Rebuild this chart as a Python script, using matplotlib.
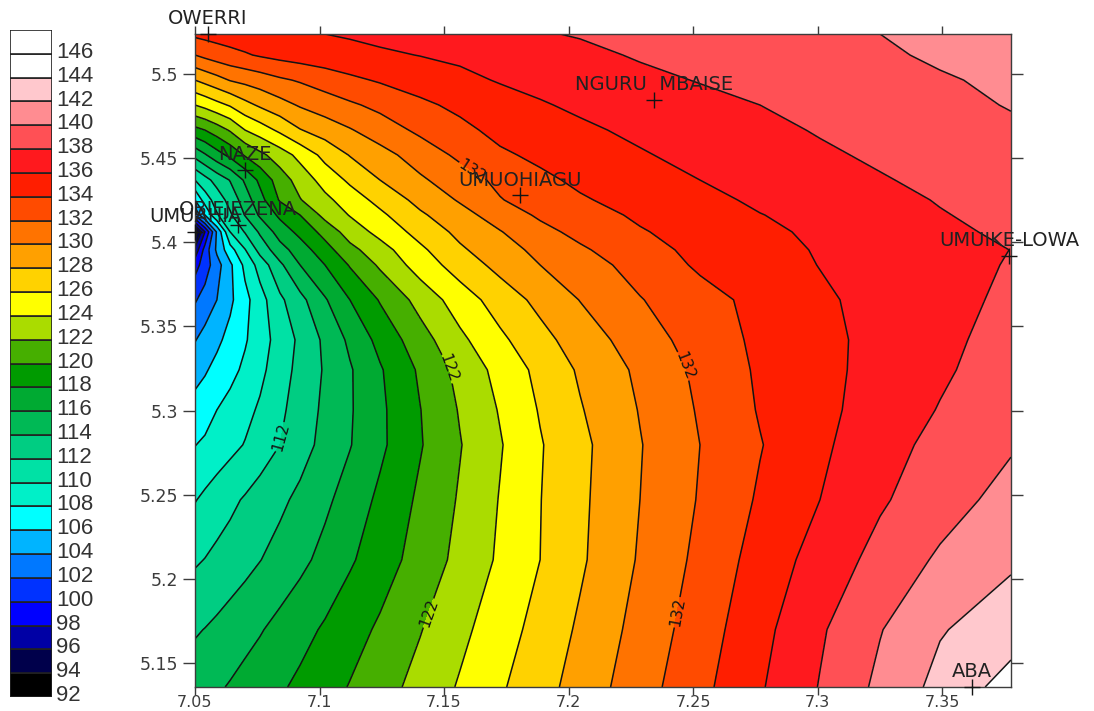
#!/usr/bin/env python

import numpy as np
from matplotlib import pyplot

lon = [7.05, 7.054, 7.0588, 7.0641, 7.0701, 7.0761, 7.0841, 7.0922, 7.1022, 7.1122, 7.1243, 7.1404,
       7.1564, 7.1725, 7.1886, 7.2046, 7.2287, 7.2528, 7.2769, 7.301, 7.3251, 7.3492, 7.3777]
lat = [5.1357, 5.1698, 5.2113, 5.247, 5.2796, 5.3004, 5.3242, 5.342, 5.3658, 5.3865, 5.3955, 5.4062,
       5.4162, 5.4252, 5.437, 5.4519, 5.4667, 5.4816, 5.4964, 5.5113, 5.5238]

# one row per latitude, south to north
z = [
    [115.05, 115.35, 115.75, 116.15, 116.65, 117.1, 117.75, 118.4, 119.25, 120.1, 121.2, 122.65,
     124.2, 125.75, 127.25, 128.8, 131.15, 133.45, 135.8, 138.1, 140.45, 142.6, 144.8],
    [113.8, 114.05, 114.4, 114.85, 115.35, 115.85, 116.6, 117.35, 118.25, 119.2, 120.3, 121.9,
     123.5, 125.1, 126.7, 128.3, 130.7, 133, 135.4, 137.75, 139.9, 141.85, 143.1],
    [111.75, 112.05, 112.5, 112.9, 113.4, 113.95, 114.7, 115.5, 116.6, 117.75, 119.05, 120.8,
     122.55, 124.3, 126, 127.7, 130.2, 132.5, 134.8, 136.8, 138.65, 140.3, 141.7],
    [109.9, 110.4, 110.95, 111.55, 112.2, 112.8, 113.6, 114.45, 115.6, 116.85, 118.4, 120.35,
     122.2, 124.1, 125.95, 127.6, 130, 132.15, 134.25, 136, 137.75, 139.15, 140.7],
    [107.95, 108.35, 108.9, 109.45, 110.1, 111, 112, 113.2, 114.6, 115.9, 117.6, 119.85,
     121.9, 123.85, 125.85, 127.5, 129.9, 132, 133.9, 135.65, 137.2, 138.6, 139.8],
    [106.8, 107.1, 108, 108.67, 109.44, 110.27, 111.6, 112.9, 114.4, 115.8, 117.6, 119.95,
     122.15, 124.15, 126.15, 127.85, 130.1, 132.2, 134.15, 135.5, 136.85, 138.1, 139.4],
    [105.2, 105.8, 106.55, 107.4, 108.4, 109.5, 111.1, 112.6, 114.2, 115.8, 117.8, 120.3,
     122.6, 124.65, 126.55, 128.25, 130.4, 132.45, 134.3, 135.5, 136.6, 137.7, 139],
    [103.9, 104.7, 105.6, 106.6, 107.8, 109.1, 110.8, 112.4, 114.4, 116.4, 118.6, 121.15,
     123.55, 125.6, 127.35, 128.95, 131, 132.9, 134.4, 135.5, 136.55, 137.55, 138.7],
    [101.8, 102.8, 104, 105.6, 107.4, 109.2, 111.6, 113.4, 115.8, 118, 120.15, 122.7,
     125, 126.9, 128.55, 130.05, 131.9, 133.3, 134.55, 135.7, 136.6, 137.4, 138.35],
    [99.2, 101, 103.2, 105.6, 108.5, 110.8, 113.6, 116, 118, 120.15, 122.3, 124.9,
     126.9, 128.6, 130, 131.1, 132.75, 134.3, 135.15, 136.05, 136.65, 137.35, 138.12],
    [96.6, 100.8, 104.4, 107.2, 109.9, 112.7, 115.2, 117, 119.2, 121.4, 123.2, 125.6,
     127.7, 129.2, 130.5, 131.7, 133.3, 134.5, 135.35, 136.15, 136.75, 137.3, 138.02],
    [92.5, 98, 104.3, 110, 112.15, 114.3, 116.9, 118.55, 120.7, 122.9, 124.6, 126.7,
     128.5, 129.9, 131.4, 132.55, 133.85, 134.75, 135.6, 136.35, 137, 137.65, 138.3],
    [102.2, 106, 109.8, 111.7, 114.1, 116.3, 118.4, 120, 122.6, 124.1, 125.6, 127.7,
     129.3, 130.9, 132.3, 133.2, 134.3, 135.1, 135.95, 136.55, 137.3, 137.9, 138.5],
    [106, 109, 110.9, 112.7, 115, 117.3, 120.2, 121.9, 123.5, 125, 126.6, 128.6,
     130.2, 131.9, 132.9, 133.8, 134.7, 135.5, 136.3, 136.9, 137.5, 138.1, 138.7],
    [110, 111.3, 112.75, 114.1, 116.3, 118.45, 121, 122.8, 124.8, 126.35, 128, 129.7,
     131.1, 132.45, 133.6, 134.35, 135.2, 136, 136.6, 137.2, 137.85, 138.45, 139.1],
    [114.6, 115.8, 117.2, 118.5, 120.2, 121.5, 123, 124.6, 126.6, 128.1, 129.3, 130.9,
     132.4, 133.7, 134.4, 135, 135.85, 136.5, 137.1, 137.7, 138.3, 138.8, 139.4],
    [119.4, 120, 121, 122.2, 124, 125, 126.4, 127.9, 128.9, 129.85, 131, 132.4,
     133.5, 134.55, 135.1, 135.7, 136.35, 136.9, 137.5, 138.15, 138.7, 139.1, 139.7],
    [124, 124.6, 125.4, 126.2, 127.4, 128.3, 129.3, 130.2, 131, 131.7, 132.5, 133.6,
     134.45, 135.15, 135.85, 136.3, 136.85, 137.4, 138, 138.5, 139, 139.5, 140.1],
    [128, 128.6, 129.3, 130.1, 130.55, 131, 131.7, 132.2, 132.9, 133.6, 134.2, 134.9,
     135.5, 136.15, 136.5, 136.95, 137.5, 138.1, 138.5, 138.95, 139.4, 139.8, 140.4],
    [132, 132.5, 133, 133.4, 133.8, 134.2, 134.6, 134.9, 135.2, 135.4, 135.7, 136.05,
     136.4, 136.75, 137.15, 137.5, 138.2, 138.6, 139, 139.3, 139.7, 140.3, 140.7],
    [134.4, 134.6, 134.8, 135, 135.2, 135.4, 135.6, 135.8, 136, 136.2, 136.5, 136.8,
     137.1, 137.4, 137.85, 138.15, 138.5, 138.9, 139.3, 139.6, 140, 140.5, 141],
]

levels = list(range(92, 150, 2))
labelled_levels = [112, 122, 132]
band_colors = ["#000000", "#00004b", "#0000a5", "#0000ff", "#0032ff", "#0078ff", "#00b4ff", "#00ffff",
               "#00f0c8", "#00e1a5", "#00cd82", "#00b955", "#00aa32", "#009b00", "#46af00", "#aadc00",
               "#ffff00", "#ffd200", "#ffa000", "#ff7300", "#ff4b00", "#ff1e00", "#ff191e", "#ff5055",
               "#ff8c91", "#ffc8cd", "#ffffff", "#ffffff"]

town_names = ["OWERRI", "NGURU  MBAISE", "NAZE", "UMUOHIAGU", "OBIEJEZENA", "UMUAHIA", "UMUIKE-LOWA", "ABA"]
town_lon = [7.0552, 7.2343, 7.0701, 7.1805, 7.0673, 7.05, 7.377, 7.362]
town_lat = [5.5238, 5.4846, 5.443, 5.4281, 5.4103, 5.4062, 5.3919, 5.1359]

label_points = [(7.085, 5.284), (7.152, 5.325), (7.2465, 5.3265), (7.145, 5.179), (7.244, 5.18), (7.16, 5.4395)]

dark = "#3c3c3c"
fig = pyplot.figure(figsize=(10.94, 7.11), dpi=100)

# map
ax = fig.add_axes([195 / 1094, 1 - 687 / 711, 816 / 1094, 653 / 711])
ax.contourf(lon, lat, np.array(z), levels=levels, colors=band_colors)
plain_levels = [lv for lv in levels if lv not in labelled_levels]
ax.contour(lon, lat, np.array(z), levels=plain_levels, colors="#141414", linewidths=1.1)
cs = ax.contour(lon, lat, np.array(z), levels=labelled_levels, colors="#141414", linewidths=1.1)
ax.clabel(cs, manual=label_points, fmt="%d", fontsize=11, inline_spacing=1)

for name, x, y in zip(town_names, town_lon, town_lat):
    ax.plot(x, y, "+", color="#141414", ms=11, mew=1, clip_on=False, zorder=5)
    ax.annotate(name, (x, y), xytext=(0, 10.8), textcoords="offset points", ha="center", va="center",
                fontsize=14, color="#222222", annotation_clip=False, zorder=6)

ax.set_xlim(7.05, 7.3777)
ax.set_ylim(5.1357, 5.5238)
ax.set_xticks([7.05, 7.1, 7.15, 7.2, 7.25, 7.3, 7.35])
ax.set_xticklabels(["7.05", "7.1", "7.15", "7.2", "7.25", "7.3", "7.35"])
ax.set_yticks([5.15, 5.2, 5.25, 5.3, 5.35, 5.4, 5.45, 5.5])
ax.set_yticklabels(["5.15", "5.2", "5.25", "5.3", "5.35", "5.4", "5.45", "5.5"])
ax.tick_params(axis="x", top=True, direction="out", length=5.8, width=1, color=dark, labelcolor=dark,
               labelsize=11.5, pad=0.3)
ax.tick_params(axis="y", right=True, direction="out", length=8.6, width=1, color=dark, labelcolor=dark,
               labelsize=12.5, pad=3.5)
for spine in ax.spines.values():
    spine.set_color(dark)
    spine.set_linewidth(1)

# colour key
key = fig.add_axes([10 / 1094, 1 - 697 / 711, 42 / 1094, 667 / 711])
key.bar(0.5, 1, width=1, bottom=np.arange(len(band_colors)), color=band_colors, edgecolor="#222222", linewidth=1.2)
key.set_xlim(0, 1)
key.set_ylim(0, len(band_colors))
key.axis("off")
for ii, level in enumerate(levels[:-1]):
    key.text(1.1, ii + 0.06, str(level), ha="left", va="center", fontsize=16, family="Liberation Sans",
             color="#333333", clip_on=False)

fig.savefig("out.png", dpi=100)
